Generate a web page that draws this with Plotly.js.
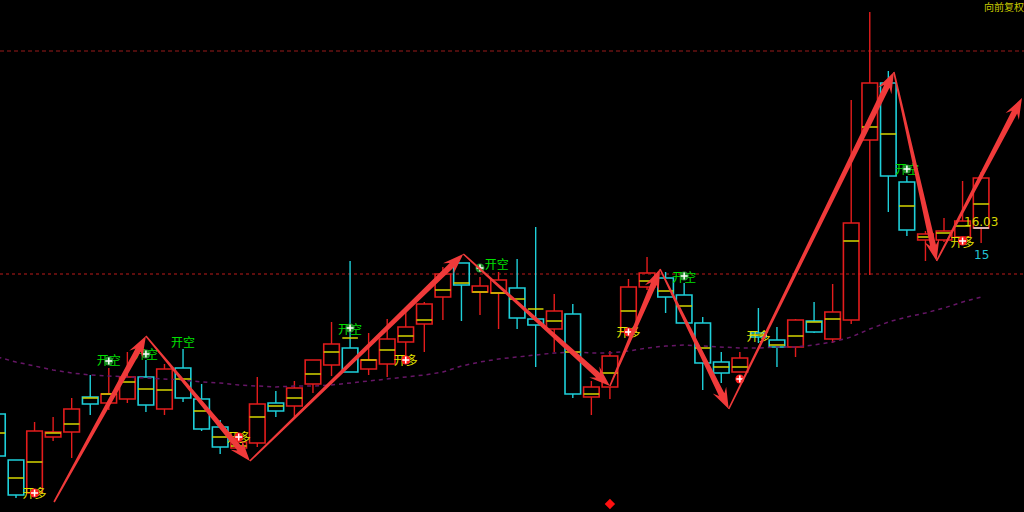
<!DOCTYPE html>
<html>
<head>
<meta charset="utf-8">
<script src="https://cdn.plot.ly/plotly-3.0.1.min.js"></script>
<style>html,body{margin:0;padding:0;background:#000;}#chart{width:1024px;height:512px;}</style>
</head>
<body>
<div id="chart"></div>
<script>
// ---- candle data (index = bar number) ----
const open  = [6.3,4.0,2.35,5.15,5.4,7.15,6.85,7.05,8.15,6.55,8.6,7.05,5.65,4.6,4.85,6.85,6.7,7.8,8.75,9.6,8.55,8.8,9.9,10.8,12.15,13.85,12.4,12.35,12.6,11.05,10.55,11.3,7.15,7.65,10.4,12.65,13.1,12.25,10.85,8.9,8.4,10.35,10.0,9.65,10.95,10.05,11.0,20.0,22.85,17.9,15.0,15.0,15.15,15.6];
const close = [4.2,2.25,5.45,5.4,6.55,6.8,7.3,8.15,6.75,8.55,7.1,5.55,4.65,4.9,6.8,6.45,7.6,9.0,9.8,8.4,9.0,10.05,10.65,11.8,13.3,12.75,12.7,13.0,11.1,10.75,11.45,7.3,7.65,9.2,12.65,13.35,12.15,10.85,8.85,8.35,9.1,10.15,9.65,11.0,10.4,11.4,15.85,22.85,18.2,15.5,15.3,15.45,15.95,18.1];
const high  = [6.3,4.0,5.9,6.15,7.1,8.25,8.6,9.4,9.0,8.8,9.55,7.8,6.0,5.1,8.15,7.45,7.95,9.0,10.9,13.95,10.35,11.05,11.4,11.9,13.65,13.85,13.15,13.4,14.05,15.65,12.3,11.8,7.95,9.45,13.05,14.15,13.4,12.85,11.15,9.4,9.4,11.6,10.65,11.05,11.9,12.8,22.0,26.4,23.45,18.2,15.45,16.1,17.95,18.4];
const low   = [4.2,2.1,2.15,4.95,4.1,6.25,6.5,6.85,6.4,6.25,6.9,5.45,4.3,4.4,4.65,6.15,6.15,7.35,8.2,8.4,8.25,8.15,9.15,9.4,11.0,10.95,11.25,10.55,10.55,8.65,9.4,7.1,6.25,7.05,10.25,12.5,11.35,10.85,7.5,7.85,8.4,9.85,8.65,9.15,10.35,9.85,10.8,13.25,16.4,15.2,13.95,14.9,14.85,14.85];
const avgPrice = [5.35,3.1,3.9,5.35,5.8,7.1,7.3,7.9,7.55,7.5,8.05,6.45,5.15,4.7,6.15,6.7,7.1,8.3,9.4,10.1,9.0,9.5,10.2,11.0,12.5,12.85,12.4,12.35,12.05,11.55,10.95,9.4,7.3,8.35,11.45,12.95,12.45,11.7,9.6,8.65,8.65,10.25,9.75,10.2,10.9,11.05,14.95,20.65,20.3,16.7,15.15,15.35,15.7,16.8];
const maLine = [9.15,8.9,8.7,8.5,8.35,8.25,8.2,8.15,8.1,8.05,8.0,7.9,7.85,7.75,7.7,7.65,7.7,7.7,7.75,7.85,7.95,8.05,8.15,8.25,8.4,8.7,8.9,9.05,9.15,9.25,9.35,9.4,9.35,9.35,9.45,9.6,9.7,9.75,9.7,9.65,9.6,9.6,9.65,9.65,9.75,9.9,10.15,10.55,10.9,11.15,11.35,11.6,11.9,12.15];

// ---- zigzag turning points ----
const zzIdx   = [3.05, 8.0, 13.6, 25.1, 33.0, 35.7, 39.4, 48.3, 50.6, 55.2];
const zzPrice = [1.9, 10.2, 3.95, 14.3, 7.7, 13.55, 6.55, 23.4, 13.95, 22.1];

// ---- signals ----
const longTextIdx   = [2, 13, 22, 34, 41, 52];
const longTextPrice = [2.25, 5.05, 8.9, 10.3, 10.1, 14.8];
const longDotIdx    = [2, 13, 22, 34, 40, 52];
const longDotPrice  = [2.35, 5.15, 9.0, 10.4, 8.05, 14.95];
const shortTextIdx   = [6, 8, 10, 19, 26.9, 37, 49];
const shortTextPrice = [8.9, 9.2, 9.8, 10.45, 13.7, 13.05, 18.45];
const shortDotIdx    = [6, 8, 19, 26, 37, 49];
const shortDotPrice  = [8.95, 9.3, 10.6, 13.6, 13.2, 18.55];
const markerIdx = [33];
const markerPrice = [1.8];

// ---- levels and labels ----
const levels = [24.45, 13.3];
const lastLabel = "16.03";
const lastLabelPrice = 15.9;
const lowLabel = "15";
const lowLabelPrice = 14.25;
const modeLabel = "向前复权";

const xr = [0.138, 55.31];
const yr = [1.4, 27];
const W = 1024, H = 512;
const RED = '#e41c1c', CYAN = '#1ed0da';

const idx = open.map((_, i) => i);
const isUp = idx.map(i => close[i] > open[i]);

// bodies as hollow bars
function bodyTrace(up) {
  const sel = idx.filter(i => isUp[i] === up);
  return {type:'bar', x: sel, base: sel.map(i => Math.min(open[i], close[i])),
    y: sel.map(i => Math.max(Math.abs(close[i] - open[i]), 0.04)),
    width: 0.84, marker:{color:'rgba(0,0,0,0)', line:{color: up ? RED : CYAN, width:1.6}},
    hoverinfo:'skip', showlegend:false};
}
// wicks outside the bodies
function wickTrace(up) {
  const wx = [], wy = [];
  idx.filter(i => isUp[i] === up).forEach(i => {
    const top = Math.max(open[i], close[i]), bot = Math.min(open[i], close[i]);
    if (high[i] > top) { wx.push(i, i, null); wy.push(top, high[i], null); }
    if (low[i] < bot) { wx.push(i, i, null); wy.push(bot, low[i], null); }
  });
  return {type:'scatter', mode:'lines', x: wx, y: wy, line:{color: up ? RED : CYAN, width:1.4}, hoverinfo:'skip', showlegend:false};
}

// yellow average ticks inside candles
const ax = [], ay = [];
idx.forEach(i => { ax.push(i - 0.42, i + 0.42, null); ay.push(avgPrice[i], avgPrice[i], null); });

const traces = [
  bodyTrace(true), bodyTrace(false),
  wickTrace(true), wickTrace(false),
  {type:'scatter', mode:'lines', x: idx, y: maLine, line:{color:'#661666', width:1.5, dash:'4px,4px'}, hoverinfo:'skip', showlegend:false},
  {type:'scatter', mode:'lines', x: ax, y: ay, line:{color:'#d6d600', width:1.5}, hoverinfo:'skip', showlegend:false},
  {type:'scatter', mode:'text', x: longTextIdx, y: longTextPrice, text: longTextIdx.map(()=> '开多'),
   textfont:{family:'Noto Sans CJK SC', size:12, color:'#e0e000'}, hoverinfo:'skip', showlegend:false},
  {type:'scatter', mode:'text', x: shortTextIdx, y: shortTextPrice, text: shortTextIdx.map(()=> '开空'),
   textfont:{family:'Noto Sans CJK SC', size:12, color:'#00e000'}, hoverinfo:'skip', showlegend:false},
  {type:'scatter', mode:'markers', x: longDotIdx, y: longDotPrice, marker:{color:'#ff1e1e', size:9, line:{width:0}}, hoverinfo:'skip', showlegend:false},
  {type:'scatter', mode:'markers', x: shortDotIdx, y: shortDotPrice, marker:{color:'#1f8f2a', size:9, line:{width:0}}, hoverinfo:'skip', showlegend:false},
  {type:'scatter', mode:'markers', x: longDotIdx.concat(shortDotIdx), y: longDotPrice.concat(shortDotPrice),
   marker:{symbol:'cross-thin', color:'#ffffff', size:5, line:{color:'#ffffff', width:1.5}}, hoverinfo:'skip', showlegend:false},
  {type:'scatter', mode:'markers', x: markerIdx, y: markerPrice, marker:{symbol:'diamond', color:'#ff1010', size:8}, hoverinfo:'skip', showlegend:false}
];

// tapered zigzag arrows
const sx = W / (xr[1] - xr[0]);
const sy = H / (yr[1] - yr[0]);
function arrowPath(x0, y0, x1, y1) {
  const X0 = x0 * sx, Y0 = y0 * sy, X1 = x1 * sx, Y1 = y1 * sy;
  const dx = X1 - X0, dy = Y1 - Y0, L = Math.hypot(dx, dy);
  const ux = dx / L, uy = dy / L, nx = -uy, ny = ux;
  const hl = 21, notch = 5, hw = 7.5, w0 = 0.8, w1 = 3;
  const Sx = X1 - ux * (hl - notch), Sy = Y1 - uy * (hl - notch);
  const Bx = X1 - ux * hl, By = Y1 - uy * hl;
  const pts = [
    [X0 + nx * w0, Y0 + ny * w0],
    [Sx + nx * w1, Sy + ny * w1],
    [Bx + nx * hw, By + ny * hw],
    [X1, Y1],
    [Bx - nx * hw, By - ny * hw],
    [Sx - nx * w1, Sy - ny * w1],
    [X0 - nx * w0, Y0 - ny * w0]
  ];
  return 'M' + pts.map(p => (p[0] / sx).toFixed(4) + ',' + (p[1] / sy).toFixed(4)).join(' L') + ' Z';
}

const shapes = [];
levels.forEach((lv, k) => {
  shapes.push({type:'line', xref:'paper', yref:'y', x0:0, x1:1, y0:lv, y1:lv,
    line:{color: k === 0 ? '#9a1a1a' : '#7e1212', width: k === 0 ? 1 : 1.5, dash: k === 0 ? '4px,3px' : '3px,3px'}, layer:'below'});
});
for (let k = 0; k < zzIdx.length - 1; k++) {
  shapes.push({type:'path', xref:'x', yref:'y', path: arrowPath(zzIdx[k], zzPrice[k], zzIdx[k+1], zzPrice[k+1]),
    fillcolor:'#f03a3a', line:{width:0}, layer:'above'});
}
const lastI = idx.length - 1;
shapes.push({type:'line', xref:'x', yref:'y', x0:lastI - 0.42, x1:lastI + 0.42, y0:lastLabelPrice - 0.3, y1:lastLabelPrice - 0.3,
  line:{color:'#e8e8e8', width:1.5}});

const annotations = [
  {x:lastI, y:lastLabelPrice, xref:'x', yref:'y', text:lastLabel, showarrow:false,
   font:{family:'DejaVu Sans', size:12, color:'#d8d800'}},
  {x:lastI, y:lowLabelPrice, xref:'x', yref:'y', text:lowLabel, showarrow:false,
   font:{family:'DejaVu Sans', size:12, color:'#20c4d4'}},
  {x:1, y:1, xref:'paper', yref:'paper', xanchor:'right', yanchor:'top', xshift:1, yshift:2, text:modeLabel, showarrow:false,
   borderpad:0, font:{family:'Noto Sans CJK SC', size:10, color:'#c8c800'}}
];

const layout = {
  width: W, height: H,
  margin:{l:0, r:0, t:0, b:0, pad:0},
  paper_bgcolor:'#000000', plot_bgcolor:'#000000',
  showlegend:false,
  barmode:'overlay',
  xaxis:{range:xr, visible:false, showgrid:false, zeroline:false, fixedrange:true},
  yaxis:{range:yr, visible:false, showgrid:false, zeroline:false, fixedrange:true},
  shapes, annotations
};

Plotly.newPlot('chart', traces, layout, {staticPlot:true, displayModeBar:false});
</script>
</body>
</html>
